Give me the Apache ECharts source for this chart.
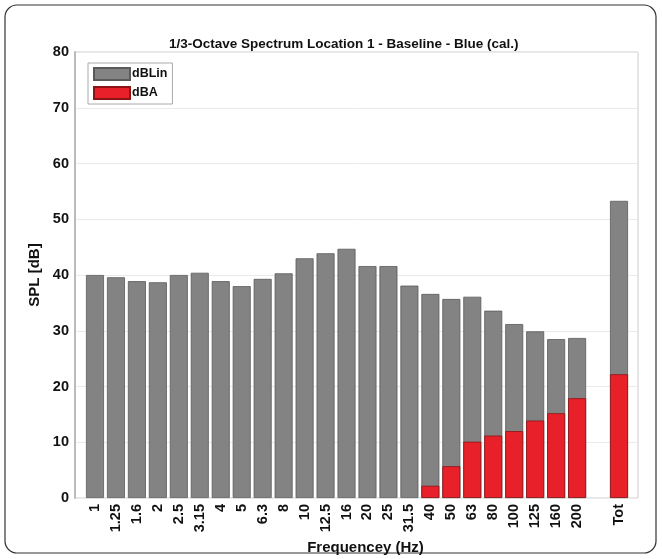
<!DOCTYPE html>
<html>
<head>
<meta charset="utf-8">
<script src="https://cdn.jsdelivr.net/npm/echarts@6/dist/echarts.min.js"></script>
<style>html,body{margin:0;padding:0;background:#fff;}#c{width:662px;height:559px;}</style>
</head>
<body>
<div id="c"></div>
<script>
const categories = ['1','1.25','1.6','2','2.5','3.15','4','5','6.3','8','10','12.5','16','20','25','31.5','40','50','63','80','100','125','160','200','','Tot'];
const dBLin = [40.0,39.6,38.9,38.7,40.0,40.4,38.9,38.0,39.3,40.3,43.0,43.9,44.7,41.6,41.6,38.1,36.6,35.7,36.1,33.6,31.2,29.9,28.5,28.7,null,53.3];
const dBA = [null,null,null,null,null,null,null,null,null,null,null,null,null,null,null,null,2.2,5.7,10.1,11.2,12.0,13.9,15.2,17.9,null,22.2];
const yTicks = {min:0, max:80, interval:10};

const FONT = 'Liberation Sans, Arial, sans-serif';
const chart = echarts.init(document.getElementById('c'), null, {renderer:'canvas'});
chart.setOption({
  backgroundColor:'#fff',
  animation:false,
  graphic:[{type:'rect', shape:{x:5,y:5,width:651,height:548,r:12}, style:{fill:'none',stroke:'#333',lineWidth:1.2}, z:-1}],
  title:{text:'1/3-Octave Spectrum Location 1 - Baseline - Blue (cal.)', left:164, top:32,
    textStyle:{fontFamily:FONT,fontWeight:'bold',fontSize:13.5,color:'#111'}},
  legend:{orient:'vertical', left:88, top:63, data:['dBLin','dBA'], itemWidth:36, itemHeight:12, itemGap:5,
    borderColor:'#aaa', borderWidth:1, padding:[4,5,4,5], backgroundColor:'#fff', icon:'rect',
    textStyle:{fontFamily:FONT,fontWeight:'bold',fontSize:12.5,color:'#111', padding:[0,0,0,-3]}},
  grid:[
    {left:75, right:24, top:52, bottom:61, show:true, borderColor:'#ccc', borderWidth:1, backgroundColor:'#fff', outerBoundsMode:'none', containLabel:false},
    {left:84.5, right:32.5, top:52, bottom:61, outerBoundsMode:'none', containLabel:false}
  ],
  xAxis:[
    {type:'value', gridIndex:0, show:false, min:0, max:1},
    {type:'category', gridIndex:1, data:categories, boundaryGap:true,
      axisLine:{show:false}, axisTick:{show:false},
      axisLabel:{rotate:90, interval:0, margin:6, fontFamily:FONT, fontWeight:'bold', fontSize:14.5, color:'#111'},
      name:'Frequencey (Hz)', nameLocation:'middle', nameGap:39,
      nameTextStyle:{fontFamily:FONT, fontWeight:'bold', fontSize:15, color:'#111', padding:[0,0,0,17]}}
  ],
  yAxis:[
    {type:'value', gridIndex:0, min:yTicks.min, max:yTicks.max, interval:yTicks.interval,
      axisLine:{show:true, lineStyle:{color:'#bbb', width:2}}, axisTick:{show:false},
      splitLine:{show:true, lineStyle:{color:'#eaeaea', width:1}},
      axisLabel:{margin:6, fontFamily:FONT, fontWeight:'bold', fontSize:14.5, color:'#111'},
      name:'SPL [dB]', nameLocation:'middle', nameGap:25, nameRotate:90,
      nameTextStyle:{fontFamily:FONT, fontWeight:'bold', fontSize:15, color:'#111'}},
    {type:'value', gridIndex:1, min:yTicks.min, max:yTicks.max, show:false, splitLine:{show:false}}
  ],
  series:[
    {name:'dBLin', type:'bar', xAxisIndex:1, yAxisIndex:1, data:dBLin, barWidth:18, barGap:'-100%',
      itemStyle:{color:'#838383', borderColor:'#5a5a5a', borderWidth:0.8}},
    {name:'dBA', type:'bar', xAxisIndex:1, yAxisIndex:1, data:dBA, barWidth:18, barGap:'-100%',
      itemStyle:{color:'#e8202a', borderColor:'#8a1515', borderWidth:0.8}}
  ]
});
</script>
</body>
</html>
